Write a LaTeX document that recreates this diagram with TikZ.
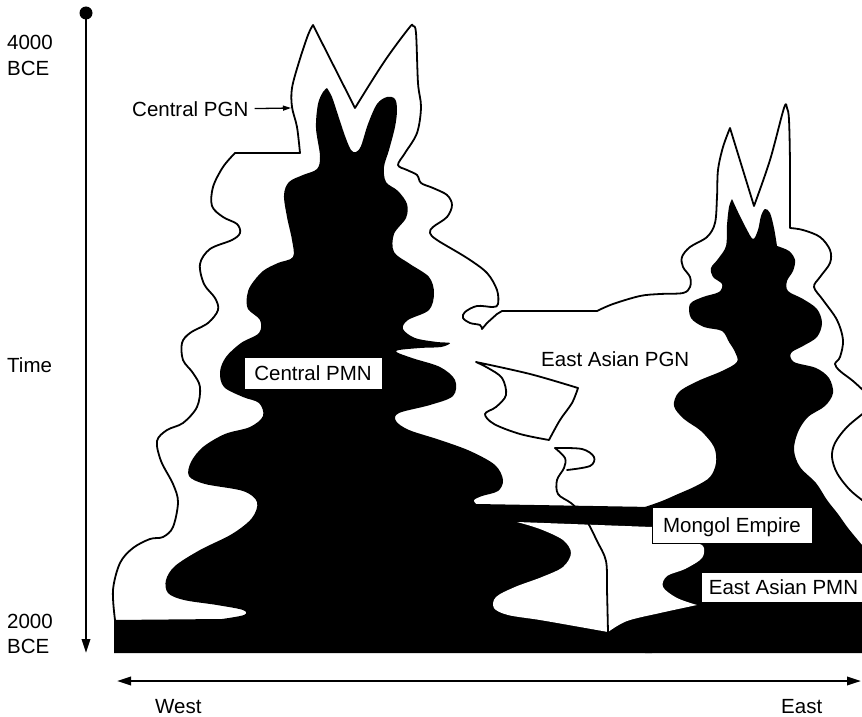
\documentclass[tikz,border=0pt]{standalone}
\usepackage{fontspec}
\setmainfont{Liberation Sans}
\usetikzlibrary{arrows.meta}
\begin{document}
\begin{tikzpicture}[x=1pt,y=-1pt,
  lbl/.style={font=\fontsize{20.5}{24}\selectfont, inner sep=0pt},
  tag/.style={lbl, fill=white, draw=black, line width=0.8pt, text height=14.7pt, text depth=0pt},
  rim/.style={line width=1.8pt, line join=round, line cap=round},
  axis/.style={line width=2pt},
  sm/.style={smooth, tension=0.55},
  axtip/.tip={Triangle[length=14pt,width=8.5pt]}]
\clip (0,0) rectangle (862,717);

% ---------- central PMN, with the black base and the band ----------
\fill (114,653) -- (114,620) -- (222,619)
  -- plot[sm] coordinates {(222,619) (244,615) (243,610) (217,605) (184,600) (168,593) (166,580)
     (175,566) (200,550) (232,534) (252,518) (257,502) (243,491) (205,484) (189,476) (191,462)
     (203,447) (225,434) (250,427) (263,416) (259,403) (243,397) (224,387) (220,372) (226,357)
     (241,343) (259,333) (260,320) (248,309) (247,296) (251,285) (263,271) (278,263) (293,257)
     (292,240) (287,217) (284,195) (289,182) (303,175) (317,169) (320,156) (316,128) (318,104)
     (323,92) (327,88)}
  -- plot[sm] coordinates {(327,88) (332,97) (338,115) (345,136) (351,150) (356,152) (361,146)
     (368,124) (377,104) (387,97) (395,99) (397,110) (395,127) (389,150) (384,167) (386,182)
     (398,191) (407,204) (406,218) (394,234) (394,252) (410,264) (429,277) (434,293) (429,310)
     (408,320) (403,329) (415,338) (437,342) (450,343) (441,347) (420,348) (396,351) (412,358)
     (440,367) (455,380) (453,396) (430,405) (399,413) (396,421) (409,430) (440,440) (470,451)
     (495,465) (503,480) (498,491) (482,496) (474,500) (476,504)}
  -- (652,507) -- (652,653) -- cycle;

% ---------- East Asian PMN ----------
\fill (645,507)
  -- plot[sm] coordinates {(645,507) (662,501) (678,494) (696,486) (710,477) (716,463) (714,447)
     (701,431) (684,419) (674,406) (679,392) (698,381) (722,371) (737,362) (735,352) (729,342)
     (722,331) (704,327) (691,318) (690,304) (703,297) (719,292) (722,284) (713,277) (711,268)
     (718,259) (726,246) (727,225) (729,207) (732,199)}
  -- plot[sm] coordinates {(732,199) (738,212) (746,228) (753,239) (758,230) (761,216) (765,209)
     (770,213) (774,228) (777,246)}
  -- plot[sm] coordinates {(777,246) (789,251) (795,260) (793,271) (787,281) (788,291) (803,299)
     (817,309) (822,323) (817,337) (803,346) (791,353) (794,362) (816,368) (829,378) (833,393)
     (825,406) (808,417) (798,432) (794,450) (800,467) (816,483) (827,500) (838,514) (848,528)
     (862,545)}
  -- (866,545) -- (866,653) -- (645,653) -- cycle;

% ---------- white gap below the band ----------
\fill[white] (517,522) -- (652,527) -- (652,543)
  -- plot[sm] coordinates {(652,543) (690,543) (703,546) (702,558) (685,569) (667,576) (663,587)
     (677,598) (697,605)}
  -- plot[sm] coordinates {(697,605) (660,613) (627,621) (608,632)}
  -- plot[sm] coordinates {(608,632) (580,627) (540,620) (508,615) (494,608) (496,597) (515,587)
     (542,577) (563,567) (571,553) (563,540) (540,529) (517,522)}
  -- cycle;

% ---------- PGN outline ----------
\draw[rim] plot[sm] coordinates {(115,620) (113,590) (120,563) (133,548) (150,539) (163,537)
     (173,527) (178,502) (173,484) (161,461) (157,441) (167,430) (183,423) (197,407) (200,387)
     (193,373) (183,360) (182,343) (190,333) (208,323) (218,310) (215,298) (204,284) (200,264)
     (210,249) (232,240) (240,233) (237,224) (223,217) (212,206) (213,187) (223,167) (235,153)}
  -- (300,153)
  -- plot[sm] coordinates {(300,153) (297,127) (292,107) (292,88) (299,62) (308,35) (313,25)}
  -- (355,108)
  -- plot[sm] coordinates {(355,108) (384,62) (409,28) (413,26) (416,33) (418,83) (421,107)
     (417,133) (405,153) (398,165) (407,170) (417,175) (421,183) (433,188) (447,195) (452,205)
     (447,217) (433,227) (430,233) (437,240) (467,258) (487,273) (497,290) (498,304) (493,307)
     (477,306) (465,312) (463,318) (470,323) (480,325) (482,329)}
  -- (487,323) -- (497,314) -- (502,311) -- (597,311)
  -- plot[sm] coordinates {(597,311) (613,304) (640,296) (660,294) (683,293) (690,287) (690,277)
     (683,267) (682,257) (690,247) (707,237) (715,223) (717,197) (718,170) (723,147) (730,128)}
  -- (754,206)
  -- plot[sm] coordinates {(754,206) (770,160) (784,108) (787,108) (789,120) (790,165) (790,228)}
  -- plot[sm] coordinates {(790,228) (803,230) (820,237) (830,250) (830,263) (820,277) (814,287)
     (823,300) (837,320) (843,340) (840,357) (835,364) (840,371) (853,381) (866,393) (875,402)
     (866,411) (847,427) (835,443) (832,457) (837,473) (850,490) (866,503)};

% loose pieces of the outline in the open middle
\draw[rim] plot[sm] coordinates {(476,362) (530,374) (578,388)}
  -- plot[sm] coordinates {(578,388) (572,403) (560,420) (549,440)}
  -- plot[sm] coordinates {(549,440) (520,434) (494,424) (485,414) (496,407) (506,395) (502,378)
     (488,368) (476,362)} -- cycle;
\draw[rim] plot[sm] coordinates {(555,448) (582,449) (594,457) (590,466) (567,470)};
\draw[rim] plot[sm] coordinates {(555,448) (565,458) (564,468) (557,480) (558,494) (571,503)
     (580,512) (588,523) (597,541) (606,561) (607,590) (608,632)};

% ---------- labels ----------
\node[lbl, anchor=base west] (ta) at (7,50) {4000};
\node[lbl, anchor=base west] (tb) at (7,76) {BCE};
\node[lbl, anchor=base west] (tt) at (7,372) {Time};
\node[lbl, anchor=base west] (tc) at (7,628) {2000};
\node[lbl, anchor=base west] (td) at (7,653) {BCE};
\node[lbl, anchor=base west] (cpgn) at (132,116) {Central PGN};
\node[lbl, anchor=base west] (epgn) at (541,366) {East Asian PGN};
\node[tag, minimum width=138pt, minimum height=32pt] (cpmn) at (313,373) {Central PMN};
\node[tag, minimum width=160pt, minimum height=36pt] (mongol) at (732,525) {Mongol Empire};
\node[tag, minimum width=165pt, minimum height=30pt] (epmn) at (783.5,587) {East Asian PMN};
\node[lbl, anchor=base west] (west) at (155,713) {West};
\node[lbl, anchor=base west] (east) at (781,713) {East};

\coordinate (pgnrim) at (291,108);
\draw[line width=1.3pt, -{Triangle[length=8pt,width=5pt]}, shorten <=6pt] (cpgn.east) -- (pgnrim);

% ---------- axes ----------
\node[circle, fill, inner sep=0pt, minimum size=13pt] (top) at (86,13) {};
\coordinate (bot) at (86,653);
\draw[axis, -axtip] (top.center) -- (bot);
\coordinate (wend) at (117,681);
\coordinate (eend) at (861,681);
\draw[axis, axtip-axtip] (wend) -- (eend);
\end{tikzpicture}
\end{document}
